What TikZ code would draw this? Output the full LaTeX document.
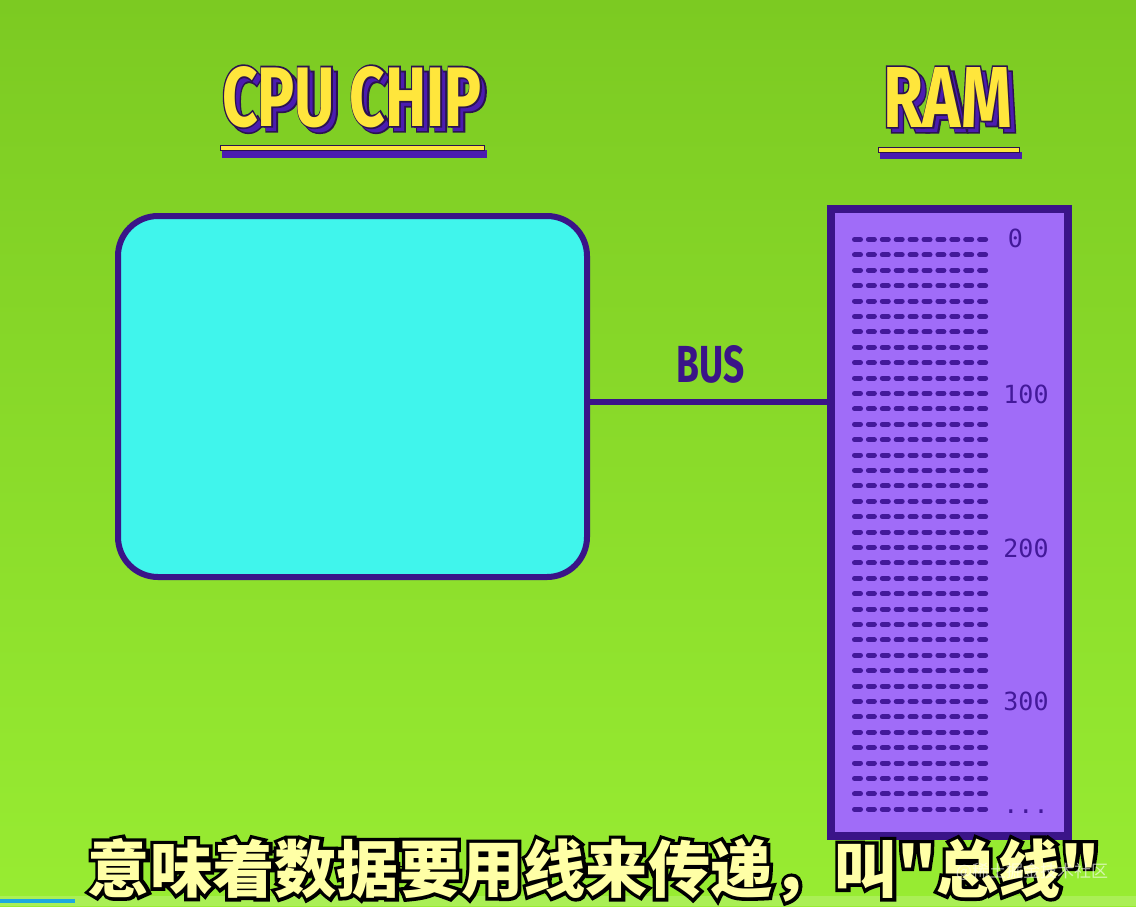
\documentclass[tikz,border=0pt]{standalone}
\usepackage{fontspec}
\usepackage{graphicx}
\newfontfamily\ttlfont{Fira Sans}
\newfontfamily\ttlol{Fira Sans}[BoldFeatures={FakeBold=4}]
\newfontfamily\monofont{DejaVu Sans Mono}
\newfontfamily\cjk{Noto Sans CJK SC}
\newfontfamily\cjkol{Noto Sans CJK SC}[BoldFeatures={FakeBold=11}]
\definecolor{bgtop}{HTML}{7CCA22}
\definecolor{bgbot}{HTML}{98EC32}
\definecolor{border}{HTML}{3A1488}
\definecolor{cyanf}{HTML}{40F5EC}
\definecolor{ramf}{HTML}{A06CF8}
\definecolor{dashc}{HTML}{43199A}
\definecolor{ttly}{HTML}{FFE63C}
\definecolor{shad}{HTML}{4B1CB0}
\definecolor{outl}{HTML}{2B1250}
\definecolor{subf}{HTML}{FFFFA6}
\definecolor{barc}{HTML}{1EA8E0}
\newsavebox\olb
\newsavebox\olc
\newsavebox\olm
% overlay layer of box #4 shifted by (#1,#2) pt, coloured #3
\newcommand\layerb[4]{\rlap{\hspace*{#1pt}\raisebox{#2pt}{\textcolor{#3}{\usebox#4}}}}
% title: yellow letters, dark outline, purple extrusion down-right
\newcommand\titleart[3]{%
  \setbox\olm=\hbox{\ttlfont\bfseries\fontsize{87}{87}\selectfont #3}%
  \pgfmathsetmacro\sx{#1/\the\wd\olm}%
  \pgfmathsetmacro\sy{#2/\the\ht\olm}%
  \setbox\olb=\hbox{\scalebox{\sx}[\sy]{\ttlfont\bfseries\fontsize{87}{87}\selectfont #3}}%
  \setbox\olc=\hbox{\scalebox{\sx}[\sy]{\ttlol\bfseries\fontsize{87}{87}\selectfont #3}}%
  \layerb{5}{-5}{outl}{\olc}%
  \layerb{2.5}{-2.5}{shad}{\olb}%
  \layerb{5}{-5}{shad}{\olb}%
  \layerb{0}{0}{outl}{\olc}%
  \textcolor{ttly}{\usebox\olb}}
% subtitle: pale yellow letters with a thick black outline
\newcommand\subart[2]{%
  \setbox\olm=\hbox{\cjk\bfseries\fontsize{64}{64}\selectfont #2}%
  \pgfmathsetmacro\sx{#1/\the\wd\olm}%
  \setbox\olb=\hbox{\scalebox{\sx}{\cjk\bfseries\fontsize{64}{64}\selectfont #2}}%
  \setbox\olc=\hbox{\scalebox{\sx}{\cjkol\bfseries\fontsize{64}{64}\selectfont #2}}%
  \layerb{0}{0}{black}{\olc}%
  \textcolor{subf}{\usebox\olb}}
\tikzset{
  plain/.style={inner sep=0pt,outer sep=0pt},
  addr/.style={plain,text=dashc,font=\monofont\fontsize{25}{25}\selectfont},
  underY/.style={draw=outl,line width=0.8pt,fill=ttly},
  underP/.style={fill=shad},
  dashrow/.style={draw=dashc,line width=5pt,line cap=round,dash pattern=on 6pt off 7.9pt},
}
\begin{document}
\begin{tikzpicture}[x=1pt,y=-1pt]
\useasboundingbox (0,0) rectangle (1136,906);
\shade[top color=bgtop,bottom color=bgbot] (0,0) rectangle (1136,906);

% titles
\node[plain,anchor=north west] (cputitle) at (222,66) {\titleart{260pt}{60pt}{CPU CHIP}};
\fill[underP] (222,150) rectangle (487,158);
\path[underY] (220,145) rectangle (484,150.5);
\node[plain,anchor=north west] (ramtitle) at (883,67) {\titleart{129pt}{60pt}{RAM}};
\fill[underP] (880,152) rectangle (1022,159);
\path[underY] (878,147) rectangle (1019,152.5);

% CPU box
\node[plain,draw=border,line width=6pt,fill=cyanf,rounded corners=40pt,
      minimum width=469pt,minimum height=361pt] (cpu) at (352.5,396.5) {};

% RAM box
\node[plain,draw=border,line width=8pt,fill=ramf,
      minimum width=237pt,minimum height=627pt] (ram) at (949.5,522.5) {};

% bus
\coordinate (busy) at (0,402);
\draw[border,line width=6.5pt] (cpu.east |- busy) -- (ram.west |- busy);
\node[plain,text=border] (buslbl) at (711,364) {\resizebox{68pt}{37pt}{\ttlfont\bfseries BUS}};

% memory rows
\foreach \i in {0,...,37}{
  \draw[dashrow] (854.5,239.5+15.4*\i) -- (986,239.5+15.4*\i);
}
\node[addr] (a0) at (1015.5,238) {0};
\node[addr] (a100) at (1026,394) {100};
\node[addr] (a200) at (1026,548) {200};
\node[addr] (a300) at (1026,701) {300};
\node[addr,anchor=base] (adots) at (1026,813) {...};

% bottom strip
\fill[white,opacity=0.18] (0,896) rectangle (1136,906);
\fill[barc] (0,898.5) rectangle (75,903);

% subtitle
\node[plain] (sub) at (594,870) {\subart{1012pt}{意味着数据要用线来传递，叫"总线"}};
\node[plain,text=white,opacity=0.6,font=\cjk\fontsize{17}{17}\selectfont] (wm) at (1032,872) {@稀土掘金技术社区};
\end{tikzpicture}
\end{document}
